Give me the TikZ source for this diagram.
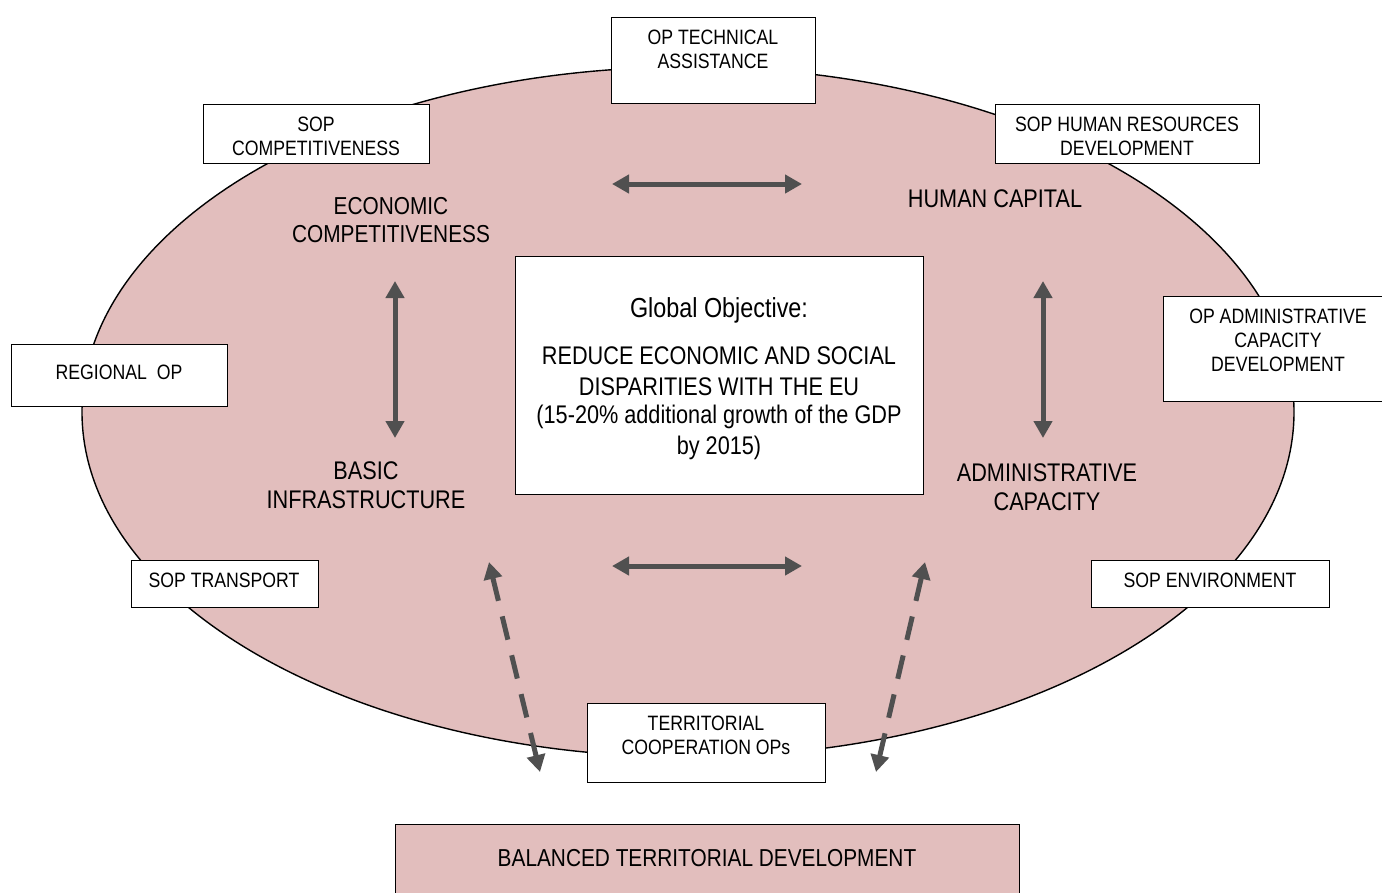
\documentclass[tikz,border=0pt]{standalone}
\usepackage{fontspec}
\setmainfont{Liberation Sans}[FakeStretch=0.85]
\usetikzlibrary{arrows.meta,shapes.geometric}
\definecolor{pinkfill}{RGB}{226,190,189}
\definecolor{arrowgray}{RGB}{80,80,80}
\begin{document}
\begin{tikzpicture}[x=1pt,y=-1pt,
  box/.style={draw=black,line width=1.4pt,fill=white,inner sep=0pt},
  btxt/.style={font=\fontsize{20.8}{24}\selectfont,align=center,inner sep=0pt},
  lbl/.style={font=\fontsize{25.5}{28.5}\selectfont,align=center,inner sep=0pt},
  dbl/.style={arrowgray,line width=5pt,{Triangle[width=18pt,length=17pt]}-{Triangle[width=18pt,length=17pt]},shorten <=0pt,shorten >=0pt},
  dsh/.style={dbl,dash pattern=on 24pt off 16pt}]
\useasboundingbox (0,0) rectangle (1382,892);
% ellipse
\node[ellipse,draw=black,line width=1.4pt,fill=pinkfill,minimum width=1212pt,minimum height=690pt,inner sep=0pt] (ell) at (688,412) {};
% bottom box
\node[draw=black,line width=1.4pt,fill=pinkfill,minimum width=624pt,minimum height=80pt,inner sep=0pt,anchor=north west] (btd) at (395,824) {};
\node[lbl,font=\fontsize{24.5}{28}\selectfont] (btdt) at (707,858) {BALANCED TERRITORIAL DEVELOPMENT};
% outer boxes
\node[box,minimum width=204pt,minimum height=86pt,anchor=north west] (ta) at (611,17) {};
\node[btxt] (tat) at (713,49) {OP TECHNICAL\\ASSISTANCE};
\node[box,minimum width=226pt,minimum height=59pt,anchor=north west] (sc) at (203,104) {};
\node[btxt] (sct) at (316,136) {SOP\\COMPETITIVENESS};
\node[box,minimum width=264pt,minimum height=59pt,anchor=north west] (hr) at (995,104) {};
\node[btxt] (hrt) at (1127,136) {SOP HUMAN RESOURCES\\DEVELOPMENT};
\node[box,minimum width=230pt,minimum height=105pt,anchor=north west] (ac) at (1163,296) {};
\node[btxt] (act) at (1278,340) {OP ADMINISTRATIVE\\CAPACITY\\DEVELOPMENT};
\node[box,minimum width=216pt,minimum height=62pt,anchor=north west] (ro) at (11,344) {};
\node[btxt] (rot) at (119,372) {REGIONAL\ \ OP};
\node[box,minimum width=187pt,minimum height=47pt,anchor=north west] (st) at (131,560) {};
\node[btxt] (stt) at (224,580) {SOP TRANSPORT};
\node[box,minimum width=238pt,minimum height=47pt,anchor=north west] (se) at (1091,560) {};
\node[btxt] (set) at (1210,580) {SOP ENVIRONMENT};
\node[box,minimum width=238pt,minimum height=79pt,anchor=north west] (tc) at (587,703) {};
\node[btxt] (tct) at (706,735) {TERRITORIAL\\COOPERATION OPs};
% central box
\node[box,minimum width=408pt,minimum height=238pt,anchor=north west] (gc) at (515,256) {};
\node[lbl,font=\fontsize{27.5}{31}\selectfont] (go) at (719,310) {Global Objective:};
\node[lbl,font=\fontsize{25.5}{31}\selectfont] (g1) at (719,371.5) {REDUCE ECONOMIC AND SOCIAL\\DISPARITIES WITH THE EU};
\node[lbl,font=\fontsize{25.5}{31}\selectfont] (g2) at (719,432.5) {(15-20\% additional growth of the GDP\\by 2015)};
% inner labels
\node[lbl,font=\fontsize{24.5}{28.5}\selectfont] (ec) at (391,220) {ECONOMIC\\COMPETITIVENESS};
\node[lbl] (hc) at (995,199) {HUMAN CAPITAL};
\node[lbl] (bi) at (366,485) {BASIC\\INFRASTRUCTURE};
\node[lbl] (adm) at (1047,487) {ADMINISTRATIVE\\CAPACITY};
% arrow end coordinates
\coordinate (ht1) at (612,184); \coordinate (ht2) at (802,184);
\coordinate (hb1) at (612,566); \coordinate (hb2) at (802,566);
\coordinate (vl1) at (395,281); \coordinate (vl2) at (395,438);
\coordinate (vr1) at (1043,281); \coordinate (vr2) at (1043,438);
\coordinate (dl1) at (489,562); \coordinate (dl2) at (540,772);
\coordinate (dr1) at (925,562); \coordinate (dr2) at (876,772);
\draw[dbl] (ht1) -- (ht2);
\draw[dbl] (hb1) -- (hb2);
\draw[dbl] (vl1) -- (vl2);
\draw[dbl] (vr1) -- (vr2);
\draw[dsh] (dl1) -- (dl2);
\draw[dsh] (dr1) -- (dr2);
\end{tikzpicture}
\end{document}
